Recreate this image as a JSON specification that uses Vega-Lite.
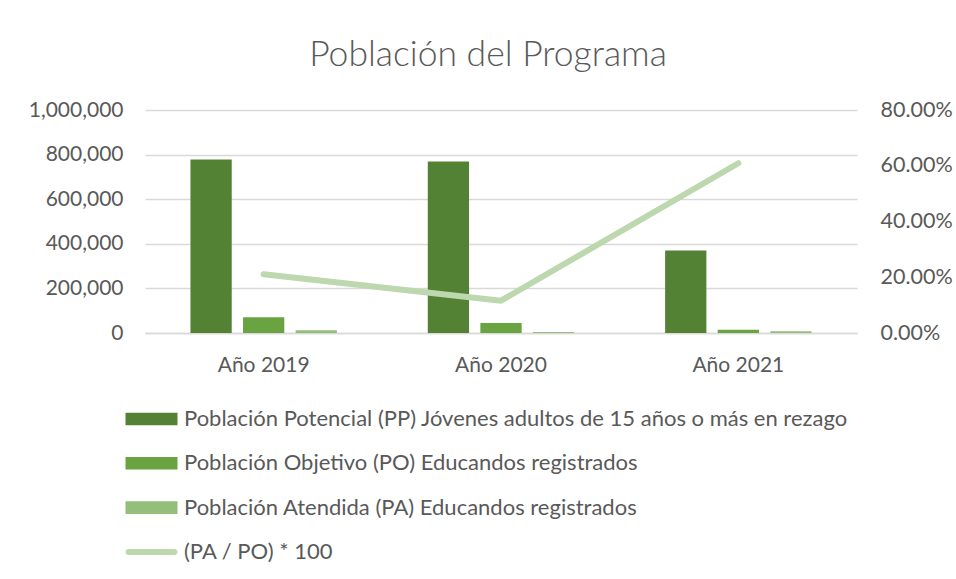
{
  "$schema": "https://vega.github.io/schema/vega-lite/v6.json",
  "width": 712,
  "height": 223,
  "autosize": {"type": "none"},
  "padding": {"left": 145, "top": 110, "right": 99, "bottom": 246},
  "background": "white",
  "config": {"font": "Lato", "view": {"stroke": null}},
  "title": {"text": "Población del Programa", "fontSize": 35.5, "font": "Lato", "fontWeight": 300, "color": "#595959", "offset": 26, "dx": -13},
  "datasets": {
    "bars": [
      {"anio": "Año 2019", "serie": "Población Potencial (PP) Jóvenes adultos de 15 años o más en rezago", "valor": 777500},
      {"anio": "Año 2019", "serie": "Población Objetivo (PO) Educandos registrados", "valor": 70600},
      {"anio": "Año 2019", "serie": "Población Atendida (PA) Educandos registrados", "valor": 12000},
      {"anio": "Año 2020", "serie": "Población Potencial (PP) Jóvenes adultos de 15 años o más en rezago", "valor": 768500},
      {"anio": "Año 2020", "serie": "Población Objetivo (PO) Educandos registrados", "valor": 45000},
      {"anio": "Año 2020", "serie": "Población Atendida (PA) Educandos registrados", "valor": 4000},
      {"anio": "Año 2021", "serie": "Población Potencial (PP) Jóvenes adultos de 15 años o más en rezago", "valor": 370000},
      {"anio": "Año 2021", "serie": "Población Objetivo (PO) Educandos registrados", "valor": 15000},
      {"anio": "Año 2021", "serie": "Población Atendida (PA) Educandos registrados", "valor": 8000}
    ],
    "linea": [
      {"anio": "Año 2019", "pct": 0.211},
      {"anio": "Año 2020", "pct": 0.116},
      {"anio": "Año 2021", "pct": 0.609}
    ]
  },
  "layer": [
    {
      "data": {"name": "bars"},
      "mark": {"type": "bar"},
      "encoding": {
        "x": {
          "field": "anio", "type": "nominal",
          "scale": {"paddingInner": 0.383, "paddingOuter": 0.1915},
          "axis": {"title": null, "labelAngle": 0, "labelFontSize": 21, "labelColor": "#595959", "labelPadding": 21, "ticks": false, "domainColor": "#d9d9d9", "domainWidth": 1.5}
        },
        "xOffset": {
          "field": "serie", "type": "nominal",
          "sort": ["Población Potencial (PP) Jóvenes adultos de 15 años o más en rezago", "Población Objetivo (PO) Educandos registrados", "Población Atendida (PA) Educandos registrados"],
          "scale": {"paddingInner": 0.215, "paddingOuter": 0}
        },
        "y": {
          "field": "valor", "type": "quantitative",
          "scale": {"domain": [0, 1000000]},
          "axis": {"title": null, "values": [0, 200000, 400000, 600000, 800000, 1000000], "format": ",.0f", "labelFontSize": 21, "labelColor": "#595959", "labelPadding": 22, "ticks": false, "domain": false, "gridColor": "#d9d9d9", "gridWidth": 1.5}
        },
        "color": {
          "field": "serie", "type": "nominal",
          "scale": {
            "domain": ["Población Potencial (PP) Jóvenes adultos de 15 años o más en rezago", "Población Objetivo (PO) Educandos registrados", "Población Atendida (PA) Educandos registrados", "(PA / PO) * 100"],
            "range": ["#548235", "#6aa342", "#93bf7b", "#bdd7ae"]
          },
          "legend": {
            "orient": "none", "legendX": -4.5, "legendY": 298, "direction": "vertical", "title": null,
            "labelFontSize": 22, "labelColor": "#595959", "labelLimit": 0, "symbolSize": 400, "rowPadding": 22.3, "labelOffset": 21.5,
            "symbolType": "square",
            "encode": {
              "symbols": {
                "update": {
                  "shape": {"signal": "datum.value === '(PA / PO) * 100' ? 'M-2.3,-0.3H2.3A0.3,0.3 0 0 1 2.3,0.3H-2.3A0.3,0.3 0 0 1 -2.3,-0.3Z' : 'M-2.6,-0.63H2.6V0.63H-2.6Z'"},
                  "fillOpacity": {"value": 1},
                  "strokeWidth": {"value": 0}
                }
              }
            }
          }
        }
      }
    },
    {
      "data": {"name": "linea"},
      "mark": {"type": "line", "strokeWidth": 6, "color": "#bdd7ae", "strokeCap": "round", "strokeJoin": "round"},
      "encoding": {
        "x": {"field": "anio", "type": "nominal"},
        "y": {
          "field": "pct", "type": "quantitative",
          "scale": {"domain": [0, 0.8]},
          "axis": {"orient": "right", "title": null, "values": [0, 0.2, 0.4, 0.6, 0.8], "format": ".2%", "labelFontSize": 21.5, "labelColor": "#595959", "labelPadding": 23, "ticks": false, "domain": false, "grid": false}
        }
      }
    }
  ],
  "resolve": {"scale": {"y": "independent"}}
}
